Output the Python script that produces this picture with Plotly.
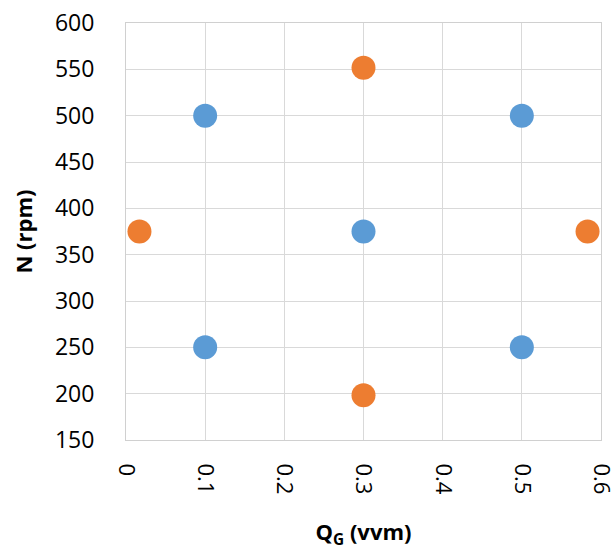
import plotly.graph_objects as go

# Data (central composite design)
factorial_qg = [0.1, 0.5, 0.3, 0.1, 0.5]
factorial_n = [500, 500, 375, 250, 250]
axial_qg = [0.3, 0.017, 0.583, 0.3]
axial_n = [551.8, 375, 375, 198.2]

x_ticks = [0, 0.1, 0.2, 0.3, 0.4, 0.5, 0.6]
x_ticklabels = ["0", "0.1", "0.2", "0.3", "0.4", "0.5", "0.6"]
y_ticks = [150, 200, 250, 300, 350, 400, 450, 500, 550, 600]

FONT = "Open Sans, Liberation Sans, sans-serif"

fig = go.Figure()
fig.add_trace(go.Scatter(x=factorial_qg, y=factorial_n, mode="markers",
                         marker=dict(color="#5B9BD5", size=24), showlegend=False))
fig.add_trace(go.Scatter(x=axial_qg, y=axial_n, mode="markers",
                         marker=dict(color="#ED7D31", size=24), showlegend=False))

fig.update_layout(
    width=612, height=550,
    margin=dict(l=126, r=11, t=23, b=110, autoexpand=False),
    plot_bgcolor="white", paper_bgcolor="white",
    font=dict(family=FONT, size=23, color="black"),
)
fig.update_xaxes(
    range=[0, 0.6], tickvals=x_ticks, ticktext=x_ticklabels, tickangle=90,
    tickfont=dict(size=22),
    showgrid=True, gridcolor="#D9D9D9", gridwidth=1, automargin=False,
    showline=True, linecolor="#D0D0D0", linewidth=1, zeroline=False,
    mirror=True, ticks="", ticklabelstandoff=18, ticklabeloverflow="allow",
    title=dict(text="<b>Q<sub>G</sub> (vvm)</b>", font=dict(size=22), standoff=32),
)
fig.update_yaxes(
    range=[150, 600], tickvals=y_ticks,
    showgrid=True, gridcolor="#D9D9D9", gridwidth=1, automargin=False,
    showline=True, linecolor="#D0D0D0", linewidth=1, zeroline=False,
    mirror=True, ticks="", ticklabelstandoff=26, ticklabeloverflow="allow",
    title=dict(text="<b>N (rpm)</b>", font=dict(size=22), standoff=16),
)

fig.write_html(
    "out.html",
    config={"displayModeBar": False},
    post_script="document.body.style.margin='0';document.body.style.overflow='hidden';",
)
